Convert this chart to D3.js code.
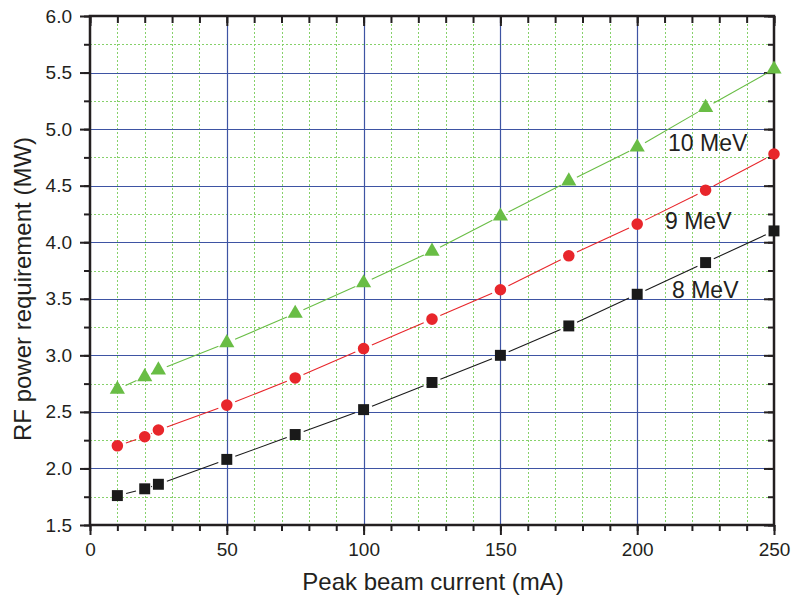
<!DOCTYPE html>
<html>
<head>
<meta charset="utf-8">
<script src="https://cdn.jsdelivr.net/npm/d3@7"></script>
<style>
body { margin: 0; background: #fff; }
text { font-family: Arial, "Liberation Sans", sans-serif; fill: #231f20; }
</style>
</head>
<body>
<svg id="chart" width="791" height="601"></svg>
<script>
// beam current (mA)
var currents = [10, 20, 25, 50, 75, 100, 125, 150, 175, 200, 225, 250];

// RF power (MW) per beam energy
var power8 = [1.76, 1.82, 1.86, 2.08, 2.30, 2.52, 2.76, 3.00, 3.26, 3.54, 3.82, 4.10];
var power9 = [2.20, 2.28, 2.34, 2.56, 2.80, 3.06, 3.32, 3.58, 3.88, 4.16, 4.46, 4.78];
var power10 = [2.70, 2.81, 2.87, 3.11, 3.37, 3.64, 3.92, 4.23, 4.54, 4.84, 5.19, 5.53];

var seriesNames = ["8 MeV", "9 MeV", "10 MeV"];

var xTicks = [0, 50, 100, 150, 200, 250];
var yTicks = [1.5, 2.0, 2.5, 3.0, 3.5, 4.0, 4.5, 5.0, 5.5, 6.0];

var drawChart = function()
{
	var svg = d3.select("#chart");

	var pLeft = 90, pRight = 774, pTop = 16, pBottom = 525;

	var x = d3.scaleLinear().domain([0, 250]).range([pLeft, pRight]);
	var y = d3.scaleLinear().domain([1.5, 6.0]).range([pBottom, pTop]);

	var xMinor = d3.range(0, 251, 10);
	var yMinor = d3.range(1.5, 6.001, 0.25);

	// Minor grid - green dotted
	var grid = svg.append("g");
	grid.selectAll("line.vminor")
		.data(xMinor.filter(function(d) { return d % 50 !== 0; }))
		.enter().append("line")
		.attr("x1", function(d) { return Math.round(x(d)) + 0.5; })
		.attr("x2", function(d) { return Math.round(x(d)) + 0.5; })
		.attr("y1", pTop).attr("y2", pBottom)
		.attr("stroke", "#86d16a").attr("stroke-width", 1).attr("stroke-dasharray", "2,2");

	grid.selectAll("line.hminor")
		.data(yMinor.filter(function(d) { return Math.abs(d * 2 - Math.round(d * 2)) > 0.01; }))
		.enter().append("line")
		.attr("y1", function(d) { return Math.round(y(d)) + 0.5; })
		.attr("y2", function(d) { return Math.round(y(d)) + 0.5; })
		.attr("x1", pLeft).attr("x2", pRight)
		.attr("stroke", "#86d16a").attr("stroke-width", 1).attr("stroke-dasharray", "2,2");

	// Major grid - blue
	grid.selectAll("line.vmajor")
		.data(xTicks.slice(1, -1))
		.enter().append("line")
		.attr("x1", function(d) { return Math.round(x(d)) + 0.5; })
		.attr("x2", function(d) { return Math.round(x(d)) + 0.5; })
		.attr("y1", pTop).attr("y2", pBottom)
		.attr("stroke", "#3e54a3").attr("stroke-width", 1.2);

	grid.selectAll("line.hmajor")
		.data(yTicks.slice(1, -1))
		.enter().append("line")
		.attr("y1", function(d) { return Math.round(y(d)) + 0.5; })
		.attr("y2", function(d) { return Math.round(y(d)) + 0.5; })
		.attr("x1", pLeft).attr("x2", pRight)
		.attr("stroke", "#3e54a3").attr("stroke-width", 1.2);

	// Axes: outward ticks on left/bottom, inward on top/right
	var fmt = d3.format(".1f");
	svg.append("g").attr("transform", "translate(0," + pBottom + ")")
		.call(d3.axisBottom(x).tickValues(xTicks).tickSize(10).tickPadding(8).tickFormat(d3.format("d")));
	svg.append("g").attr("transform", "translate(0," + pBottom + ")")
		.call(d3.axisBottom(x).tickValues(xMinor).tickSize(6).tickFormat(""));
	svg.append("g").attr("transform", "translate(" + pLeft + ",0)")
		.call(d3.axisLeft(y).tickValues(yTicks).tickSize(10).tickPadding(8).tickFormat(fmt));
	svg.append("g").attr("transform", "translate(" + pLeft + ",0)")
		.call(d3.axisLeft(y).tickValues(yMinor).tickSize(6).tickFormat(""));
	svg.append("g").attr("transform", "translate(0," + pTop + ")")
		.call(d3.axisTop(x).tickValues(xTicks).tickSize(-10).tickFormat(""));
	svg.append("g").attr("transform", "translate(0," + pTop + ")")
		.call(d3.axisTop(x).tickValues(xMinor).tickSize(-7).tickFormat(""));
	svg.append("g").attr("transform", "translate(" + pRight + ",0)")
		.call(d3.axisRight(y).tickValues(yTicks).tickSize(-10).tickFormat(""));
	svg.append("g").attr("transform", "translate(" + pRight + ",0)")
		.call(d3.axisRight(y).tickValues(yMinor).tickSize(-6).tickFormat(""));

	svg.selectAll(".domain").remove();
	svg.selectAll(".tick line").attr("stroke", "#231f20").attr("stroke-width", 2);
	svg.selectAll(".tick text")
		.attr("font-size", 19).style("font-size", "19px")
		.attr("fill", "#231f20");

	// Frame
	svg.append("rect")
		.attr("x", pLeft).attr("y", pTop)
		.attr("width", pRight - pLeft).attr("height", pBottom - pTop)
		.attr("fill", "none").attr("stroke", "#231f20").attr("stroke-width", 2.5);

	// Series
	var series = [
		{ name: seriesNames[0], values: power8, color: "#1a1a1a", shape: d3.symbolSquare, size: 120, lx: 672, ly: 298 },
		{ name: seriesNames[1], values: power9, color: "#e8262b", shape: d3.symbolCircle, size: 105, lx: 665, ly: 229 },
		{ name: seriesNames[2], values: power10, color: "#69bd45", shape: d3.symbolTriangle, size: 100, lx: 668, ly: 151 }
	];

	var gap = 9;
	series.forEach(function(s)
	{
		var pts = currents.map(function(c, i) { return [x(c), y(s.values[i])]; });
		var g = svg.append("g");

		// Line segments with a small gap around each marker
		g.selectAll("line.seg")
			.data(d3.pairs(pts))
			.enter().append("line")
			.each(function(p)
			{
				var dx = p[1][0] - p[0][0], dy = p[1][1] - p[0][1];
				var len = Math.sqrt(dx * dx + dy * dy);
				var ux = dx / len, uy = dy / len;
				var gg = Math.min(gap, len / 2 - 0.5);
				d3.select(this)
					.attr("x1", p[0][0] + ux * gg).attr("y1", p[0][1] + uy * gg)
					.attr("x2", p[1][0] - ux * gg).attr("y2", p[1][1] - uy * gg);
			})
			.attr("stroke", s.color).attr("stroke-width", 1.1);

		g.selectAll("path.mark")
			.data(pts)
			.enter().append("path")
			.attr("transform", function(d) { return "translate(" + d[0] + "," + d[1] + ")"; })
			.attr("d", d3.symbol().type(s.shape).size(s.size))
			.attr("fill", s.color);

		svg.append("text")
			.attr("x", s.lx).attr("y", s.ly)
			.style("font-size", "23px")
			.text(s.name);
	});

	// Axis titles
	svg.append("text")
		.attr("x", 433).attr("y", 590)
		.attr("text-anchor", "middle")
		.style("font-size", "24px")
		.text("Peak beam current (mA)");

	svg.append("text")
		.attr("transform", "translate(31,289) rotate(-90)")
		.attr("text-anchor", "middle")
		.style("font-size", "24px")
		.text("RF power requirement (MW)");
};

drawChart();
</script>
</body>
</html>
